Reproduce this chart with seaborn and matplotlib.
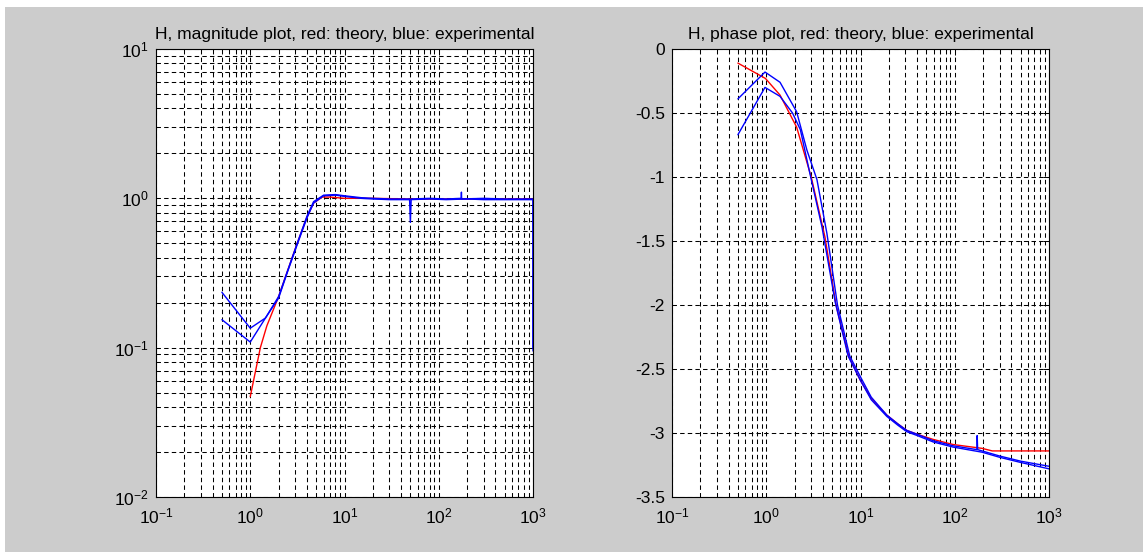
import matplotlib
matplotlib.use("Agg")
import matplotlib.pyplot as plt
from matplotlib.patches import Rectangle
from matplotlib.ticker import LogLocator, MultipleLocator, NullFormatter
import seaborn as sns


OUT_PATH = "out.png"

# magnitude, theory (red)
MAG_THEORY_FREQ = [1.0, 1.28, 1.5, 2.0, 2.5, 3.15, 4.0, 4.7, 5.8, 7.0, 10, 20, 50, 100, 200, 500, 1000]
MAG_THEORY = [0.047, 0.10, 0.14, 0.22, 0.33, 0.50, 0.75, 0.93, 1.02, 1.02, 1.0, 1.0, 0.99, 0.99, 0.99, 0.99, 0.99]

# magnitude, experimental runs (blue)
MAG_EXP1_FREQ = [0.5, 1.0, 1.45, 2.0, 2.5, 3.15, 4.0, 4.7, 6, 8, 10, 15, 20, 30, 49, 50, 51, 80, 120,
                 173, 174, 175, 300, 500, 1000, 1000]
MAG_EXP1 = [0.235, 0.135, 0.158, 0.22, 0.33, 0.50, 0.76, 0.95, 1.05, 1.06, 1.04, 1.01, 1.0, 0.99, 0.99, 0.69,
            0.99, 1.0, 0.99, 1.0, 1.10, 0.99, 1.0, 0.99, 0.99, 0.095]
MAG_EXP2_FREQ = [0.5, 1.0, 1.45, 2.0, 2.5, 3.15, 4.0, 4.7, 6, 8, 10, 15, 20, 30, 50, 80, 120, 200, 300,
                 500, 1000, 1000]
MAG_EXP2 = [0.154, 0.109, 0.158, 0.215, 0.325, 0.49, 0.74, 0.93, 1.04, 1.05, 1.03, 1.0, 0.99, 0.98, 0.98,
            0.99, 0.98, 0.99, 0.98, 0.98, 0.98, 0.1]

# phase, theory (red)
PHASE_THEORY_FREQ = [0.5, 0.98, 1.4, 2.1, 3.0, 4.2, 5.5, 7.5, 10, 13, 19, 25, 31, 40, 59, 96, 195, 250, 1000]
PHASE_THEORY = [-0.11, -0.23, -0.36, -0.61, -1.0, -1.47, -2.0, -2.4, -2.59, -2.73, -2.86, -2.93, -2.98,
                -3.01, -3.05, -3.09, -3.12, -3.14, -3.14]

# phase, experimental runs (blue)
PHASE_EXP1_FREQ = [0.5, 0.97, 1.4, 2.1, 2.7, 3.45, 4.4, 5.7, 7.7, 10.3, 13, 19, 25, 31, 40, 59, 96, 172,
                   173, 175, 195, 300, 500, 1000]
PHASE_EXP1 = [-0.39, -0.18, -0.26, -0.49, -0.79, -1.02, -1.44, -2.0, -2.4, -2.58, -2.72, -2.86, -2.93,
              -2.98, -3.01, -3.06, -3.10, -3.13, -3.02, -3.13, -3.14, -3.18, -3.22, -3.26]
PHASE_EXP2_FREQ = [0.5, 0.97, 1.4, 1.9, 2.3, 2.9, 3.9, 5.4, 7.4, 10, 13, 19, 25, 31, 40, 59, 96, 195, 300,
                   500, 1000]
PHASE_EXP2 = [-0.67, -0.30, -0.37, -0.5, -0.63, -0.97, -1.39, -1.98, -2.4, -2.59, -2.74, -2.87, -2.94,
              -2.99, -3.02, -3.07, -3.11, -3.15, -3.19, -3.23, -3.28]

TITLES = [
    "H, magnitude plot, red: theory, blue: experimental",
    "H, phase plot, red: theory, blue: experimental",
]

W, H = 1143, 552
GREY = "#cccccc"
FONT = ["Liberation Sans", "DejaVu Sans"]


def style_axes(ax):
    ax.set_facecolor("white")
    for spine in ax.spines.values():
        spine.set_color("black")
        spine.set_linewidth(0.8)
    ax.tick_params(which="both", direction="in", top=True, right=True, colors="black",
                   labelsize=12.5, width=0.7)
    ax.tick_params(which="major", length=4)
    ax.tick_params(which="minor", length=2.5)
    ax.tick_params(axis="x", pad=7)
    ax.tick_params(axis="y", pad=5)
    ax.grid(True, which="both", color="black", linestyle=(0, (3.2, 2.3)), linewidth=0.75)
    ax.set_axisbelow(True)


def main() -> None:
    sns.set_theme(style="white")
    plt.rcParams["font.family"] = FONT
    plt.rcParams["mathtext.fontset"] = "custom"
    plt.rcParams["mathtext.rm"] = "Liberation Sans"
    plt.rcParams["mathtext.default"] = "regular"
    plt.rcParams["axes.unicode_minus"] = False
    plt.rcParams["lines.scale_dashes"] = False

    fig = plt.figure(figsize=(W / 100, H / 100), dpi=100, facecolor="white")
    fig.patches.append(Rectangle((5 / W, 0), 1, (H - 7) / H, transform=fig.transFigure,
                                 facecolor=GREY, edgecolor="none", zorder=-10))

    ax_w, ax_h = 377 / W, 448 / H
    bottom = (H - 497) / H
    ax_mag = fig.add_axes([156 / W, bottom, ax_w, ax_h])
    ax_ph = fig.add_axes([672 / W, bottom, ax_w, ax_h])

    # magnitude
    ax_mag.set_xscale("log")
    ax_mag.set_yscale("log")
    sns.lineplot(x=MAG_THEORY_FREQ, y=MAG_THEORY, ax=ax_mag, color="#ff0000", lw=1.0,
                 sort=False, estimator=None)
    sns.lineplot(x=MAG_EXP1_FREQ, y=MAG_EXP1, ax=ax_mag, color="#0000ff", lw=1.0,
                 sort=False, estimator=None)
    sns.lineplot(x=MAG_EXP2_FREQ, y=MAG_EXP2, ax=ax_mag, color="#0000ff", lw=1.0,
                 sort=False, estimator=None)
    ax_mag.set_xlim(0.1, 1000)
    ax_mag.set_ylim(0.01, 10)
    ax_mag.yaxis.set_minor_locator(LogLocator(base=10, subs=range(2, 10), numticks=20))
    ax_mag.yaxis.set_minor_formatter(NullFormatter())

    # phase
    ax_ph.set_xscale("log")
    sns.lineplot(x=PHASE_THEORY_FREQ, y=PHASE_THEORY, ax=ax_ph, color="#ff0000", lw=1.0,
                 sort=False, estimator=None)
    sns.lineplot(x=PHASE_EXP1_FREQ, y=PHASE_EXP1, ax=ax_ph, color="#0000ff", lw=1.0,
                 sort=False, estimator=None)
    sns.lineplot(x=PHASE_EXP2_FREQ, y=PHASE_EXP2, ax=ax_ph, color="#0000ff", lw=1.0,
                 sort=False, estimator=None)
    ax_ph.set_xlim(0.1, 1000)
    ax_ph.set_ylim(-3.5, 0)
    ax_ph.yaxis.set_major_locator(MultipleLocator(0.5))
    ax_ph.yaxis.set_major_formatter(lambda v, pos: f"{v:g}")

    for ax, title in zip([ax_mag, ax_ph], TITLES):
        ax.xaxis.set_minor_locator(LogLocator(base=10, subs=range(2, 10), numticks=20))
        ax.xaxis.set_minor_formatter(NullFormatter())
        style_axes(ax)
        ax.set_title(title, fontsize=12.5, pad=7, color="black")
        ax.set_xlabel("")
        ax.set_ylabel("")

    fig.savefig(OUT_PATH, dpi=100, facecolor=fig.get_facecolor())
    plt.close(fig)


if __name__ == "__main__":
    main()
